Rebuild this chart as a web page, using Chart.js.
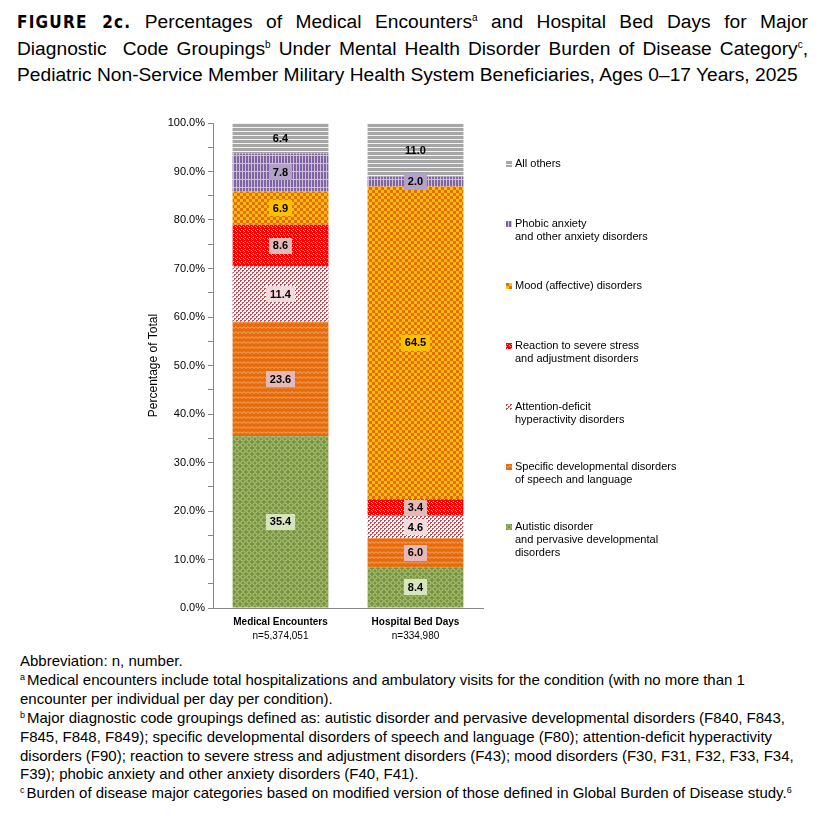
<!DOCTYPE html>
<html>
<head>
<meta charset="utf-8">
<script src="https://cdn.jsdelivr.net/npm/chart.js@4.4.1/dist/chart.umd.min.js"></script>
<style>
  html, body { margin: 0; padding: 0; background: #fff; }
  body { width: 825px; height: 824px; position: relative; overflow: hidden; font-family: "Liberation Sans", Arial, sans-serif; color: #000; }
  #title { position: absolute; left: 17px; top: 9px; width: 791px; font-size: 19.2px; line-height: 26.5px; }
  #title div { text-align: justify; text-align-last: justify; white-space: nowrap; }
  #title .fig { font-family: "DejaVu Sans Condensed", "DejaVu Sans", sans-serif; font-weight: bold; letter-spacing: 1.2px; font-size: 17px; }
  #title sup { font-size: 10px; vertical-align: 7px; line-height: 0; }
  #notes sup { font-size: 9px; vertical-align: 5px; line-height: 0; margin-right: 2px; }
  #chart { position: absolute; left: 0; top: 100px; }
  #legend { position: absolute; left: 506px; top: 0; font-size: 11px; line-height: 13px; }
  #legend .item { position: absolute; left: 0; width: 300px; }
  #legend canvas { position: absolute; left: 0; top: 4px; }
  #legend span { display: block; padding-left: 9px; }
  #notes { position: absolute; left: 20px; top: 652px; width: 800px; font-size: 15px; line-height: 18.9px; white-space: nowrap; }
</style>
</head>
<body>
<div id="title">
  <div><span class="fig">FIGURE 2c.</span> Percentages of Medical Encounters<sup>a</sup> and Hospital Bed Days for Major</div>
  <div>Diagnostic&nbsp; Code Groupings<sup>b</sup> Under Mental Health Disorder Burden of Disease Category<sup>c</sup>,</div>
  <div style="text-align-last:left">Pediatric Non-Service Member Military Health System Beneficiaries, Ages 0–17 Years, 2025</div>
</div>
<canvas id="chart" width="825" height="540"></canvas>
<div id="legend"></div>
<div id="notes">
  Abbreviation: n, number.<br>
  <sup>a</sup>Medical encounters include total hospitalizations and ambulatory visits for the condition (with no more than 1<br>
  encounter per individual per day per condition).<br>
  <sup>b</sup>Major diagnostic code groupings defined as: autistic disorder and pervasive developmental disorders (F840, F843,<br>
  F845, F848, F849); specific developmental disorders of speech and language (F80); attention-deficit hyperactivity<br>
  disorders (F90); reaction to severe stress and adjustment disorders (F43); mood disorders (F30, F31, F32, F33, F34,<br>
  F39); phobic anxiety and other anxiety disorders (F40, F41).<br>
  <sup>c</sup>Burden of disease major categories based on modified version of those defined in Global Burden of Disease study.<sup>6</sup>
</div>
<script>
// categories and values, bottom segment first
const categories = ['Medical Encounters', 'Hospital Bed Days'];
const sampleSizes = ['n=5,374,051', 'n=334,980'];
const autistic = [35.4, 8.4];
const speech = [23.6, 6.0];
const adhd = [11.4, 4.6];
const stress = [8.6, 3.4];
const mood = [6.9, 64.5];
const phobic = [7.8, 2.0];
const others = [6.4, 11.0];

const legendNames = [
  ['Autistic disorder', 'and pervasive developmental', 'disorders'],
  ['Specific developmental disorders', 'of speech and language'],
  ['Attention-deficit', 'hyperactivity disorders'],
  ['Reaction to severe stress', 'and adjustment disorders'],
  ['Mood (affective) disorders'],
  ['Phobic anxiety', 'and other anxiety disorders'],
  ['All others']
];
const legendTops = [520, 460, 400, 339, 279, 217, 157];

// small tiles for the fill patterns
function tile(w, h, draw) {
  const c = document.createElement('canvas');
  c.width = w; c.height = h;
  draw(c.getContext('2d'));
  return c;
}

const tiles = [
  tile(6, 6, g => { // green lattice
    g.fillStyle = '#77933C'; g.fillRect(0, 0, 6, 6);
    g.strokeStyle = '#B5CA8A'; g.lineWidth = 1;
    g.beginPath(); g.arc(3, 3, 2.2, 0, Math.PI * 2); g.stroke();
  }),
  tile(8, 5, g => { // orange waves
    g.fillStyle = '#E46C0A'; g.fillRect(0, 0, 8, 5);
    g.strokeStyle = '#F6B07A'; g.lineWidth = 1;
    g.beginPath(); g.moveTo(0, 1.5); g.lineTo(2, 3.5); g.lineTo(4, 1.5); g.lineTo(6, 3.5); g.lineTo(8, 1.5); g.stroke();
  }),
  tile(4, 4, g => { // red dots on white
    g.fillStyle = '#FFFFFF'; g.fillRect(0, 0, 4, 4);
    g.fillStyle = '#D0454C';
    g.fillRect(0, 0, 2, 1); g.fillRect(0, 1, 1, 1);
    g.fillRect(2, 2, 2, 1); g.fillRect(2, 3, 1, 1);
  }),
  tile(4, 4, g => { // red speckle
    g.fillStyle = '#FF0000'; g.fillRect(0, 0, 4, 4);
    g.fillStyle = 'rgba(255,220,220,0.8)';
    g.fillRect(1, 1, 1, 1); g.fillRect(3, 2, 1, 1); g.fillRect(0, 3, 1, 1);
  }),
  tile(6, 6, g => { // checker yellow/orange
    g.fillStyle = '#FFC000'; g.fillRect(0, 0, 6, 6);
    g.fillStyle = '#E46C0A';
    g.fillRect(0, 0, 3, 3); g.fillRect(3, 3, 3, 3);
  }),
  tile(3, 8, g => { // purple grid
    g.fillStyle = '#8064A2'; g.fillRect(0, 0, 3, 8);
    g.fillStyle = '#CCC1DA';
    g.fillRect(2, 0, 1, 8); g.fillRect(0, 7, 3, 1);
  }),
  tile(1, 4, g => { // gray stripes
    g.fillStyle = '#A6A6A6'; g.fillRect(0, 0, 1, 4);
    g.fillStyle = '#F2F2F2'; g.fillRect(0, 3, 1, 1);
  })
];

const labelBoxes = ['#D7E4BD', '#E6B9B8', '#F2DCDB', '#E6B9B8', '#FFC000', '#B3A2C7', null];
const seriesValues = [autistic, speech, adhd, stress, mood, phobic, others];

const canvas = document.getElementById('chart');
const ctx = canvas.getContext('2d');

const datasets = seriesValues.map((vals, i) => ({
  label: legendNames[i].join(' '),
  data: vals,
  backgroundColor: ctx.createPattern(tiles[i], 'repeat'),
  borderWidth: 0,
  barPercentage: 0.71,
  categoryPercentage: 1.0
}));

// legend built as html
const legend = document.getElementById('legend');
legendNames.forEach((lines, i) => {
  const item = document.createElement('div');
  item.className = 'item';
  item.style.top = legendTops[i] + 'px';
  const sw = document.createElement('canvas');
  sw.width = 6; sw.height = 6;
  const sg = sw.getContext('2d');
  sg.fillStyle = sg.createPattern(tiles[i], 'repeat');
  sg.fillRect(0, 0, 6, 6);
  item.appendChild(sw);
  const sp = document.createElement('span');
  sp.innerHTML = lines.join('<br>');
  item.appendChild(sp);
  legend.appendChild(item);
});

const valueLabels = {
  id: 'valueLabels',
  afterDatasetsDraw(chart) {
    const c = chart.ctx;
    c.save();
    c.font = 'bold 11px "Liberation Sans", Arial, sans-serif';
    c.textAlign = 'center';
    c.textBaseline = 'middle';
    chart.data.datasets.forEach((ds, i) => {
      chart.getDatasetMeta(i).data.forEach((bar, j) => {
        const txt = ds.data[j].toFixed(1);
        const cy = (bar.y + bar.base) / 2;
        const w = c.measureText(txt).width + 8;
        if (labelBoxes[i]) {
          c.fillStyle = labelBoxes[i];
          c.fillRect(Math.round(bar.x - w / 2), Math.round(cy - 8), Math.round(w), 16);
        }
        c.fillStyle = '#000';
        c.fillText(txt, bar.x, cy + 0.5);
      });
    });
    c.restore();
  }
};

const categoryLabels = {
  id: 'categoryLabels',
  afterDraw(chart) {
    const c = chart.ctx;
    const x = chart.scales.x;
    c.save();
    c.textAlign = 'center';
    c.textBaseline = 'middle';
    c.fillStyle = '#000';
    categories.forEach((name, i) => {
      const px = x.getPixelForValue(i);
      c.font = 'bold 10px "Liberation Sans", Arial, sans-serif';
      c.fillText(name, px, chart.chartArea.bottom + 14);
      c.font = '10px "Liberation Sans", Arial, sans-serif';
      c.fillText(sampleSizes[i], px, chart.chartArea.bottom + 28);
    });
    c.restore();
  }
};

new Chart(ctx, {
  type: 'bar',
  data: { labels: categories, datasets: datasets },
  options: {
    responsive: false,
    animation: false,
    devicePixelRatio: 1,
    layout: { padding: { left: 140, right: 342, top: 23, bottom: 0 } },
    plugins: { legend: { display: false }, tooltip: { enabled: false } },
    scales: {
      x: {
        stacked: true,
        ticks: { display: false },
        grid: { display: true, drawOnChartArea: false, drawTicks: false },
        border: { color: '#868686', width: 1 },
        afterFit: s => { s.height = 32; }
      },
      y: {
        stacked: true,
        min: 0,
        max: 100,
        ticks: {
          stepSize: 5,
          padding: 3,
          color: '#000',
          font: { family: '"Liberation Sans", Arial, sans-serif', size: 11 },
          callback: v => (v % 10 === 0 ? v.toFixed(1) + '%' : '')
        },
        grid: { drawOnChartArea: false, tickLength: 5, color: '#868686' },
        border: { color: '#868686', width: 1 },
        title: {
          display: true,
          text: 'Percentage of Total',
          color: '#000',
          font: { family: '"Liberation Sans", Arial, sans-serif', size: 12 },
          padding: { top: 6, bottom: 0 }
        },
        afterFit: s => { s.width = 73; }
      }
    }
  },
  plugins: [valueLabels, categoryLabels]
});
</script>
</body>
</html>
